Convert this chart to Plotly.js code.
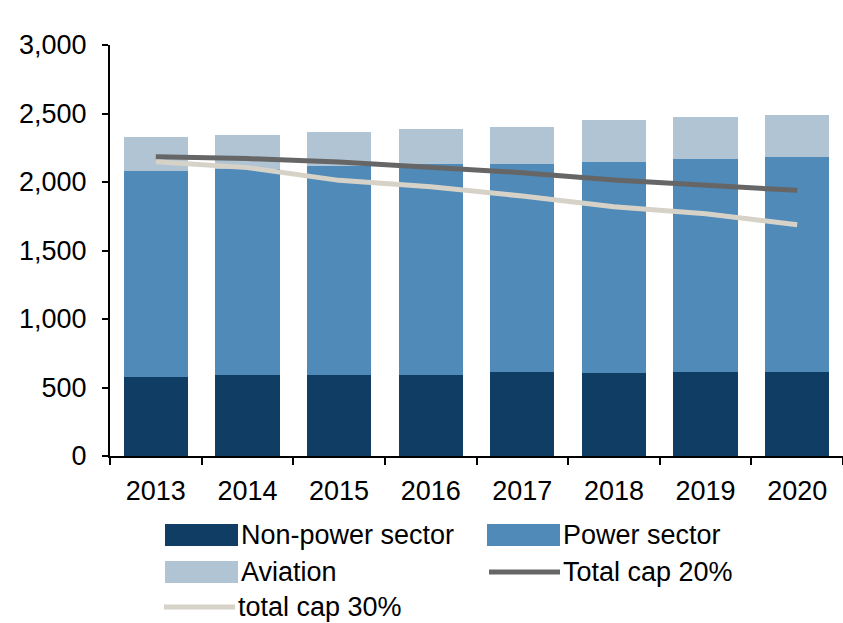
<!DOCTYPE html>
<html>
<head>
<meta charset="utf-8">
<script src="https://cdn.plot.ly/plotly-3.0.1.min.js"></script>
<style>
  html, body { margin: 0; padding: 0; background: #ffffff; }
  #chart { width: 843px; height: 623px; }
</style>
</head>
<body>
<div id="chart"></div>
<script>
// 연도
const years = ['2013', '2014', '2015', '2016', '2017', '2018', '2019', '2020'];

// 막대 (stacked)
const nonPower = [575, 590, 590, 590, 612, 605, 612, 612];
const power = [1505, 1502, 1526, 1539, 1517, 1541, 1553, 1570];
const aviation = [250, 251, 249, 256, 270, 306, 308, 307];

// 꺽은선
const cap20 = [2185, 2171, 2146, 2105, 2068, 2014, 1975, 1939];
const cap30 = [2148, 2105, 2012, 1966, 1897, 1819, 1768, 1688];

const yTicks = [0, 500, 1000, 1500, 2000, 2500, 3000];

const colors = {
    nonPower: '#0f3d63',
    power: '#4f8ab8',
    aviation: '#b0c4d4',
    cap20: '#666666',
    cap30: '#d6d2c8'
};

const font = 'Liberation Sans, Arial, sans-serif';

const traces = [
    { x: years, y: nonPower, name: 'Non-power sector', type: 'bar', marker: { color: colors.nonPower } },
    { x: years, y: power, name: 'Power sector', type: 'bar', marker: { color: colors.power } },
    { x: years, y: aviation, name: 'Aviation', type: 'bar', marker: { color: colors.aviation } },
    { x: years, y: cap20, name: 'Total cap 20%', mode: 'lines', line: { color: colors.cap20, width: 5 } },
    { x: years, y: cap30, name: 'total cap 30%', mode: 'lines', line: { color: colors.cap30, width: 5 } }
];

// 범례는 직접 그림 (큰 사각형 아이콘)
// 픽셀 -> paper 좌표 변환
const plotL = 110, plotW = 733, plotT = 45, plotH = 411;
const px = v => (v - plotL) / plotW;
const py = v => (plotT + plotH - v) / plotH;

const legendItems = [
    { name: traces[0].name, color: colors.nonPower, kind: 'box', x: 165, y: 535 },
    { name: traces[1].name, color: colors.power, kind: 'box', x: 487, y: 535 },
    { name: traces[2].name, color: colors.aviation, kind: 'box', x: 165, y: 572 },
    { name: traces[3].name, color: colors.cap20, kind: 'line', x: 487, y: 572 },
    { name: traces[4].name, color: colors.cap30, kind: 'line', x: 162, y: 607 }
];

const shapes = [];
const annotations = [];
legendItems.forEach(item => {
    if (item.kind === 'box') {
        shapes.push({
            type: 'rect', xref: 'paper', yref: 'paper',
            x0: px(item.x), x1: px(item.x + 73), y0: py(item.y + 11), y1: py(item.y - 11),
            fillcolor: item.color, line: { width: 0 }
        });
    } else {
        shapes.push({
            type: 'line', xref: 'paper', yref: 'paper',
            x0: px(item.x + 2), x1: px(item.x + 73), y0: py(item.y), y1: py(item.y),
            line: { color: item.color, width: 5 }
        });
    }
    annotations.push({
        xref: 'paper', yref: 'paper', x: px(item.x + 74), y: py(item.y),
        xanchor: 'left', yanchor: 'middle', showarrow: false,
        text: item.name, font: { family: font, size: 27, color: '#000000' }
    });
});

const layout = {
    width: 843,
    height: 623,
    margin: { l: plotL, r: 0, t: plotT, b: 623 - plotT - plotH },
    barmode: 'stack',
    bargap: 0.3,
    showlegend: false,
    paper_bgcolor: '#ffffff',
    plot_bgcolor: '#ffffff',
    font: { family: font, size: 27, color: '#000000' },
    xaxis: {
        type: 'category',
        showgrid: false,
        zeroline: false,
        showline: true,
        linecolor: '#000000',
        linewidth: 2,
        ticks: 'outside',
        tickson: 'boundaries',
        ticklen: 7,
        tickwidth: 2,
        tickcolor: '#000000',
        ticklabelstandoff: 10,
        tickfont: { family: font, size: 27 }
    },
    yaxis: {
        range: [0, 3000],
        tickvals: yTicks,
        tickformat: ',',
        showgrid: false,
        zeroline: false,
        showline: true,
        linecolor: '#000000',
        linewidth: 2,
        ticks: 'outside',
        ticklen: 6,
        tickwidth: 2,
        tickcolor: '#000000',
        ticklabelstandoff: 10,
        tickfont: { family: font, size: 27 }
    },
    shapes: shapes,
    annotations: annotations
};

Plotly.newPlot('chart', traces, layout, { staticPlot: true });
</script>
</body>
</html>
